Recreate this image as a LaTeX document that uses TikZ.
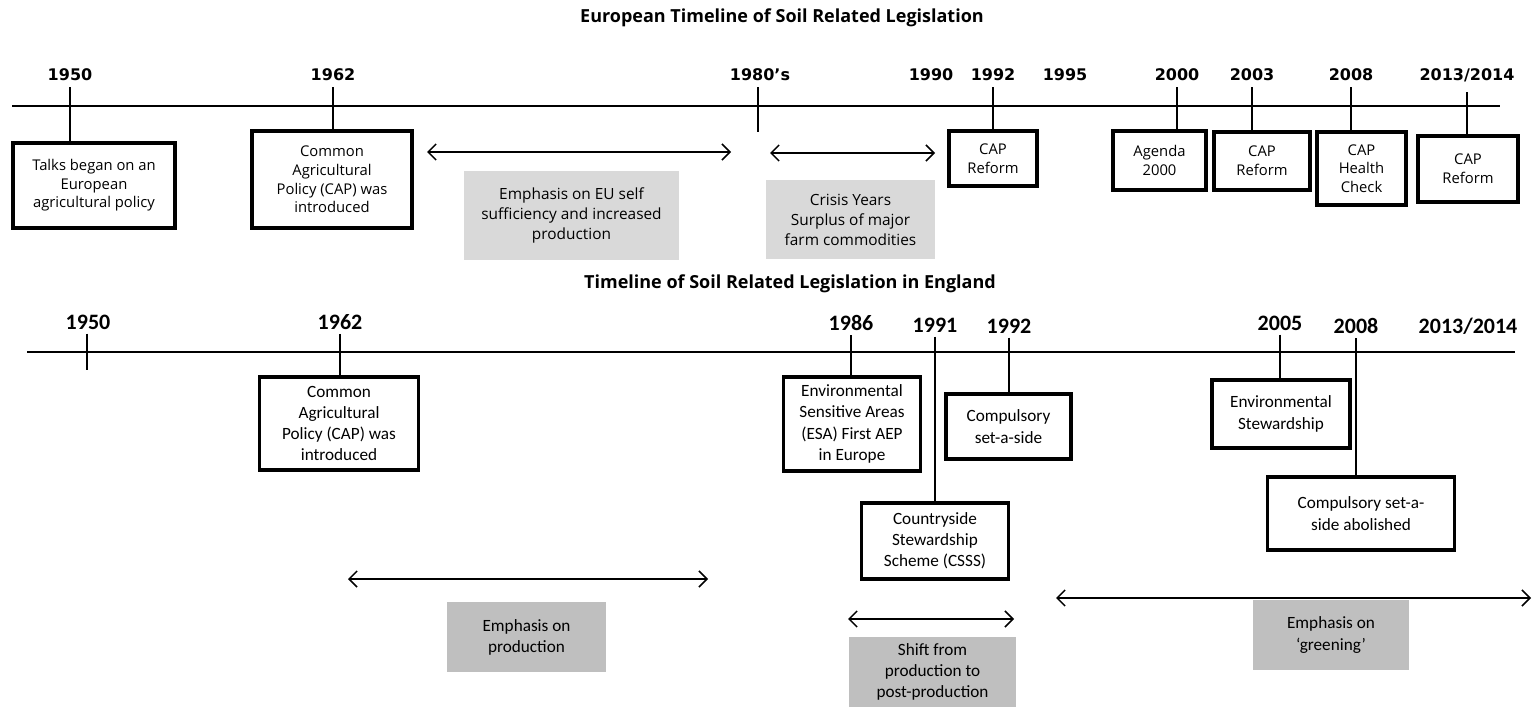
\documentclass[tikz,border=0pt]{standalone}
\usepackage{fontspec}
\setmainfont{Carlito}
\newfontfamily\headfont{DejaVu Sans}
\newfontfamily\topfont{Open Sans}
\usetikzlibrary{arrows.meta}
\definecolor{shadeA}{HTML}{D9D9D9}
\definecolor{shadeB}{HTML}{BFBFBF}
\begin{document}
\begin{tikzpicture}[x=0.5pt,y=-0.5pt,
  ttl/.style={font=\topfont\bfseries\fontsize{9}{10.5}\selectfont, inner sep=0pt},
  yrtop/.style={font=\headfont\bfseries\fontsize{8}{9.6}\selectfont, inner sep=1pt},
  yrbot/.style={font=\bfseries\fontsize{11}{12}\selectfont, inner sep=1pt},
  axis/.style={line width=1pt},
  tick/.style={line width=0.9pt},
  evtop/.style={draw, line width=1.8pt, align=center, inner sep=1pt,
    font=\topfont\fontsize{7.4}{9.3}\selectfont},
  evbot/.style={draw, line width=1.8pt, align=center, inner sep=1pt,
    font=\fontsize{8.6}{10.6}\selectfont},
  noteA/.style={fill=shadeA, align=center, inner sep=1pt,
    font=\topfont\fontsize{7.7}{10}\selectfont},
  noteB/.style={fill=shadeB, align=center, inner sep=1pt,
    font=\fontsize{8.6}{10.6}\selectfont},
  span/.style={{Straight Barb[length=4pt,width=8pt]}-{Straight Barb[length=4pt,width=8pt]},
    line width=0.75pt}
]
\useasboundingbox (0,0) rectangle (1534,707);

% ---------------- European timeline ----------------
\node[ttl] (ttlEU) at (782,18) {European Timeline of Soil Related Legislation};

\coordinate (euL) at (12,106);
\coordinate (euR) at (1500,106);
\draw[axis] (euL) -- (euR);

\node[yrtop] (e1950) at (70,75) {1950};
\node[yrtop] (e1962) at (333,75) {1962};
\node[yrtop] (e1980) at (760,75) {1980’s};
\node[yrtop] (e1990) at (931,75) {1990};
\node[yrtop] (e1992) at (993,75) {1992};
\node[yrtop] (e1995) at (1065,75) {1995};
\node[yrtop] (e2000) at (1177,75) {2000};
\node[yrtop] (e2003) at (1252,75) {2003};
\node[yrtop] (e2008) at (1351,75) {2008};
\node[yrtop] (e2013) at (1467,75) {2013/2014};

\node[evtop, minimum width=81pt, minimum height=42.5pt] (b1950) at (94,185.5)
  {Talks began on an\\European\\agricultural policy};
\node[evtop, minimum width=80pt, minimum height=48.5pt] (b1962) at (332,179.5)
  {Common\\Agricultural\\Policy (CAP) was\\introduced};
\node[evtop, minimum width=44pt, minimum height=27.5pt] (b1992) at (993,158.5)
  {CAP\\Reform};
\node[evtop, minimum width=46.5pt, minimum height=29.5pt] (b2000) at (1159.5,160.5)
  {Agenda\\2000};
\node[evtop, minimum width=48pt, minimum height=29pt] (b2003) at (1262,161)
  {CAP\\Reform};
\node[evtop, minimum width=44.5pt, minimum height=36.5pt] (b2008) at (1361.5,168.5)
  {CAP\\Health\\Check};
\node[evtop, minimum width=50pt, minimum height=33pt] (b2013) at (1468,169)
  {CAP\\Reform};

\draw[tick] ([yshift=-2pt]e1950.south) -- (e1950.south |- b1950.north);
\draw[tick] ([yshift=-2pt]e1962.south) -- (e1962.south |- b1962.north);
\coordinate (m1980) at (758,132);
\draw[tick] ([yshift=-2pt]e1980.south -| m1980) -- (m1980);
\draw[tick] ([yshift=-2pt]e1992.south) -- (e1992.south |- b1992.north);
\draw[tick] ([yshift=-2pt]e2000.south) -- (e2000.south |- b2000.north);
\draw[tick] ([yshift=-2pt]e2003.south) -- (e2003.south |- b2003.north);
\draw[tick] ([yshift=-2pt]e2008.south) -- (e2008.south |- b2008.north);
\draw[tick] ([yshift=-4pt]e2013.south) -- (e2013.south |- b2013.north);

\coordinate (sA1) at (427,152);
\coordinate (sA2) at (731,152);
\coordinate (sB1) at (770,153);
\coordinate (sB2) at (935,153);
\draw[span] (sA1) -- (sA2);
\draw[span] (sB1) -- (sB2);

\node[noteA, minimum width=107.5pt, minimum height=44.5pt] (nSelf) at (571.5,215.5)
  {Emphasis on EU self\\sufficiency and increased\\production};
\node[noteA, minimum width=84.5pt, minimum height=39.5pt] (nCrisis) at (850.5,219.5)
  {Crisis Years\\Surplus of major\\farm commodities};

% ---------------- England timeline ----------------
\node[ttl] (ttlEN) at (790,284) {Timeline of Soil Related Legislation in England};

\coordinate (enL) at (27,352);
\coordinate (enR) at (1515,352);
\draw[axis] (enL) -- (enR);

\node[yrbot] (g1950) at (88,322) {1950};
\node[yrbot] (g1962) at (340,322) {1962};
\node[yrbot] (g1986) at (851,323) {1986};
\node[yrbot] (g1991) at (935,325) {1991};
\node[yrbot] (g1992) at (1009,326) {1992};
\node[yrbot] (g2005) at (1280,323) {2005};
\node[yrbot] (g2008) at (1356,326) {2008};
\node[yrbot] (g2013) at (1468,326) {2013/2014};

\node[evbot, minimum width=79.5pt, minimum height=46.5pt] (d1962) at (339,423.5)
  {Common\\Agricultural\\Policy (CAP) was\\introduced};
\node[evbot, minimum width=68.5pt, minimum height=47pt] (d1986) at (852,424)
  {Environmental\\Sensitive Areas\\(ESA) First AEP\\in Europe};
\node[evbot, minimum width=62.5pt, minimum height=32.5pt] (d1992) at (1008.5,426.5)
  {Compulsory\\set-a-side};
\node[evbot, minimum width=73.5pt, minimum height=38pt] (d1991) at (935,541)
  {Countryside\\Stewardship\\Scheme (CSSS)};
\node[evbot, minimum width=69pt, minimum height=34pt] (d2005) at (1281,414)
  {Environmental\\Stewardship};
\node[evbot, minimum width=93.5pt, minimum height=36.5pt] (d2008) at (1361,513.5)
  {Compulsory set-a-\\side abolished};

\coordinate (m1950) at (87,370);
\draw[tick] ([yshift=-1pt]g1950.south -| m1950) -- (m1950);
\draw[tick] ([yshift=-1pt]g1962.south) -- (g1962.south |- d1962.north);
\draw[tick] ([yshift=-1pt]g1986.south) -- (g1986.south |- d1986.north);
\draw[tick] ([yshift=-1pt]g1991.south) -- (g1991.south |- d1991.north);
\draw[tick] ([yshift=-1pt]g1992.south) -- (g1992.south |- d1992.north);
\draw[tick] ([yshift=-1pt]g2005.south) -- (g2005.south |- d2005.north);
\draw[tick] ([yshift=-1pt]g2008.south) -- (g2008.south |- d2008.north);

\coordinate (sC1) at (348,579);
\coordinate (sC2) at (708,579);
\coordinate (sD1) at (848,619);
\coordinate (sD2) at (1014,619);
\coordinate (sE1) at (1056,598);
\coordinate (sE2) at (1531,598);
\draw[span] (sC1) -- (sC2);
\draw[span] (sD1) -- (sD2);
\draw[span] (sE1) -- (sE2);

\node[noteB, minimum width=79.5pt, minimum height=35pt] (nProd) at (526.5,637)
  {Emphasis on\\production};
\node[noteB, minimum width=83.5pt, minimum height=35pt] (nShift) at (932.5,672)
  {Shift from\\production to\\post-production};
\node[noteB, minimum width=78pt, minimum height=35pt] (nGreen) at (1331,635)
  {Emphasis on\\‘greening’};
\end{tikzpicture}
\end{document}
